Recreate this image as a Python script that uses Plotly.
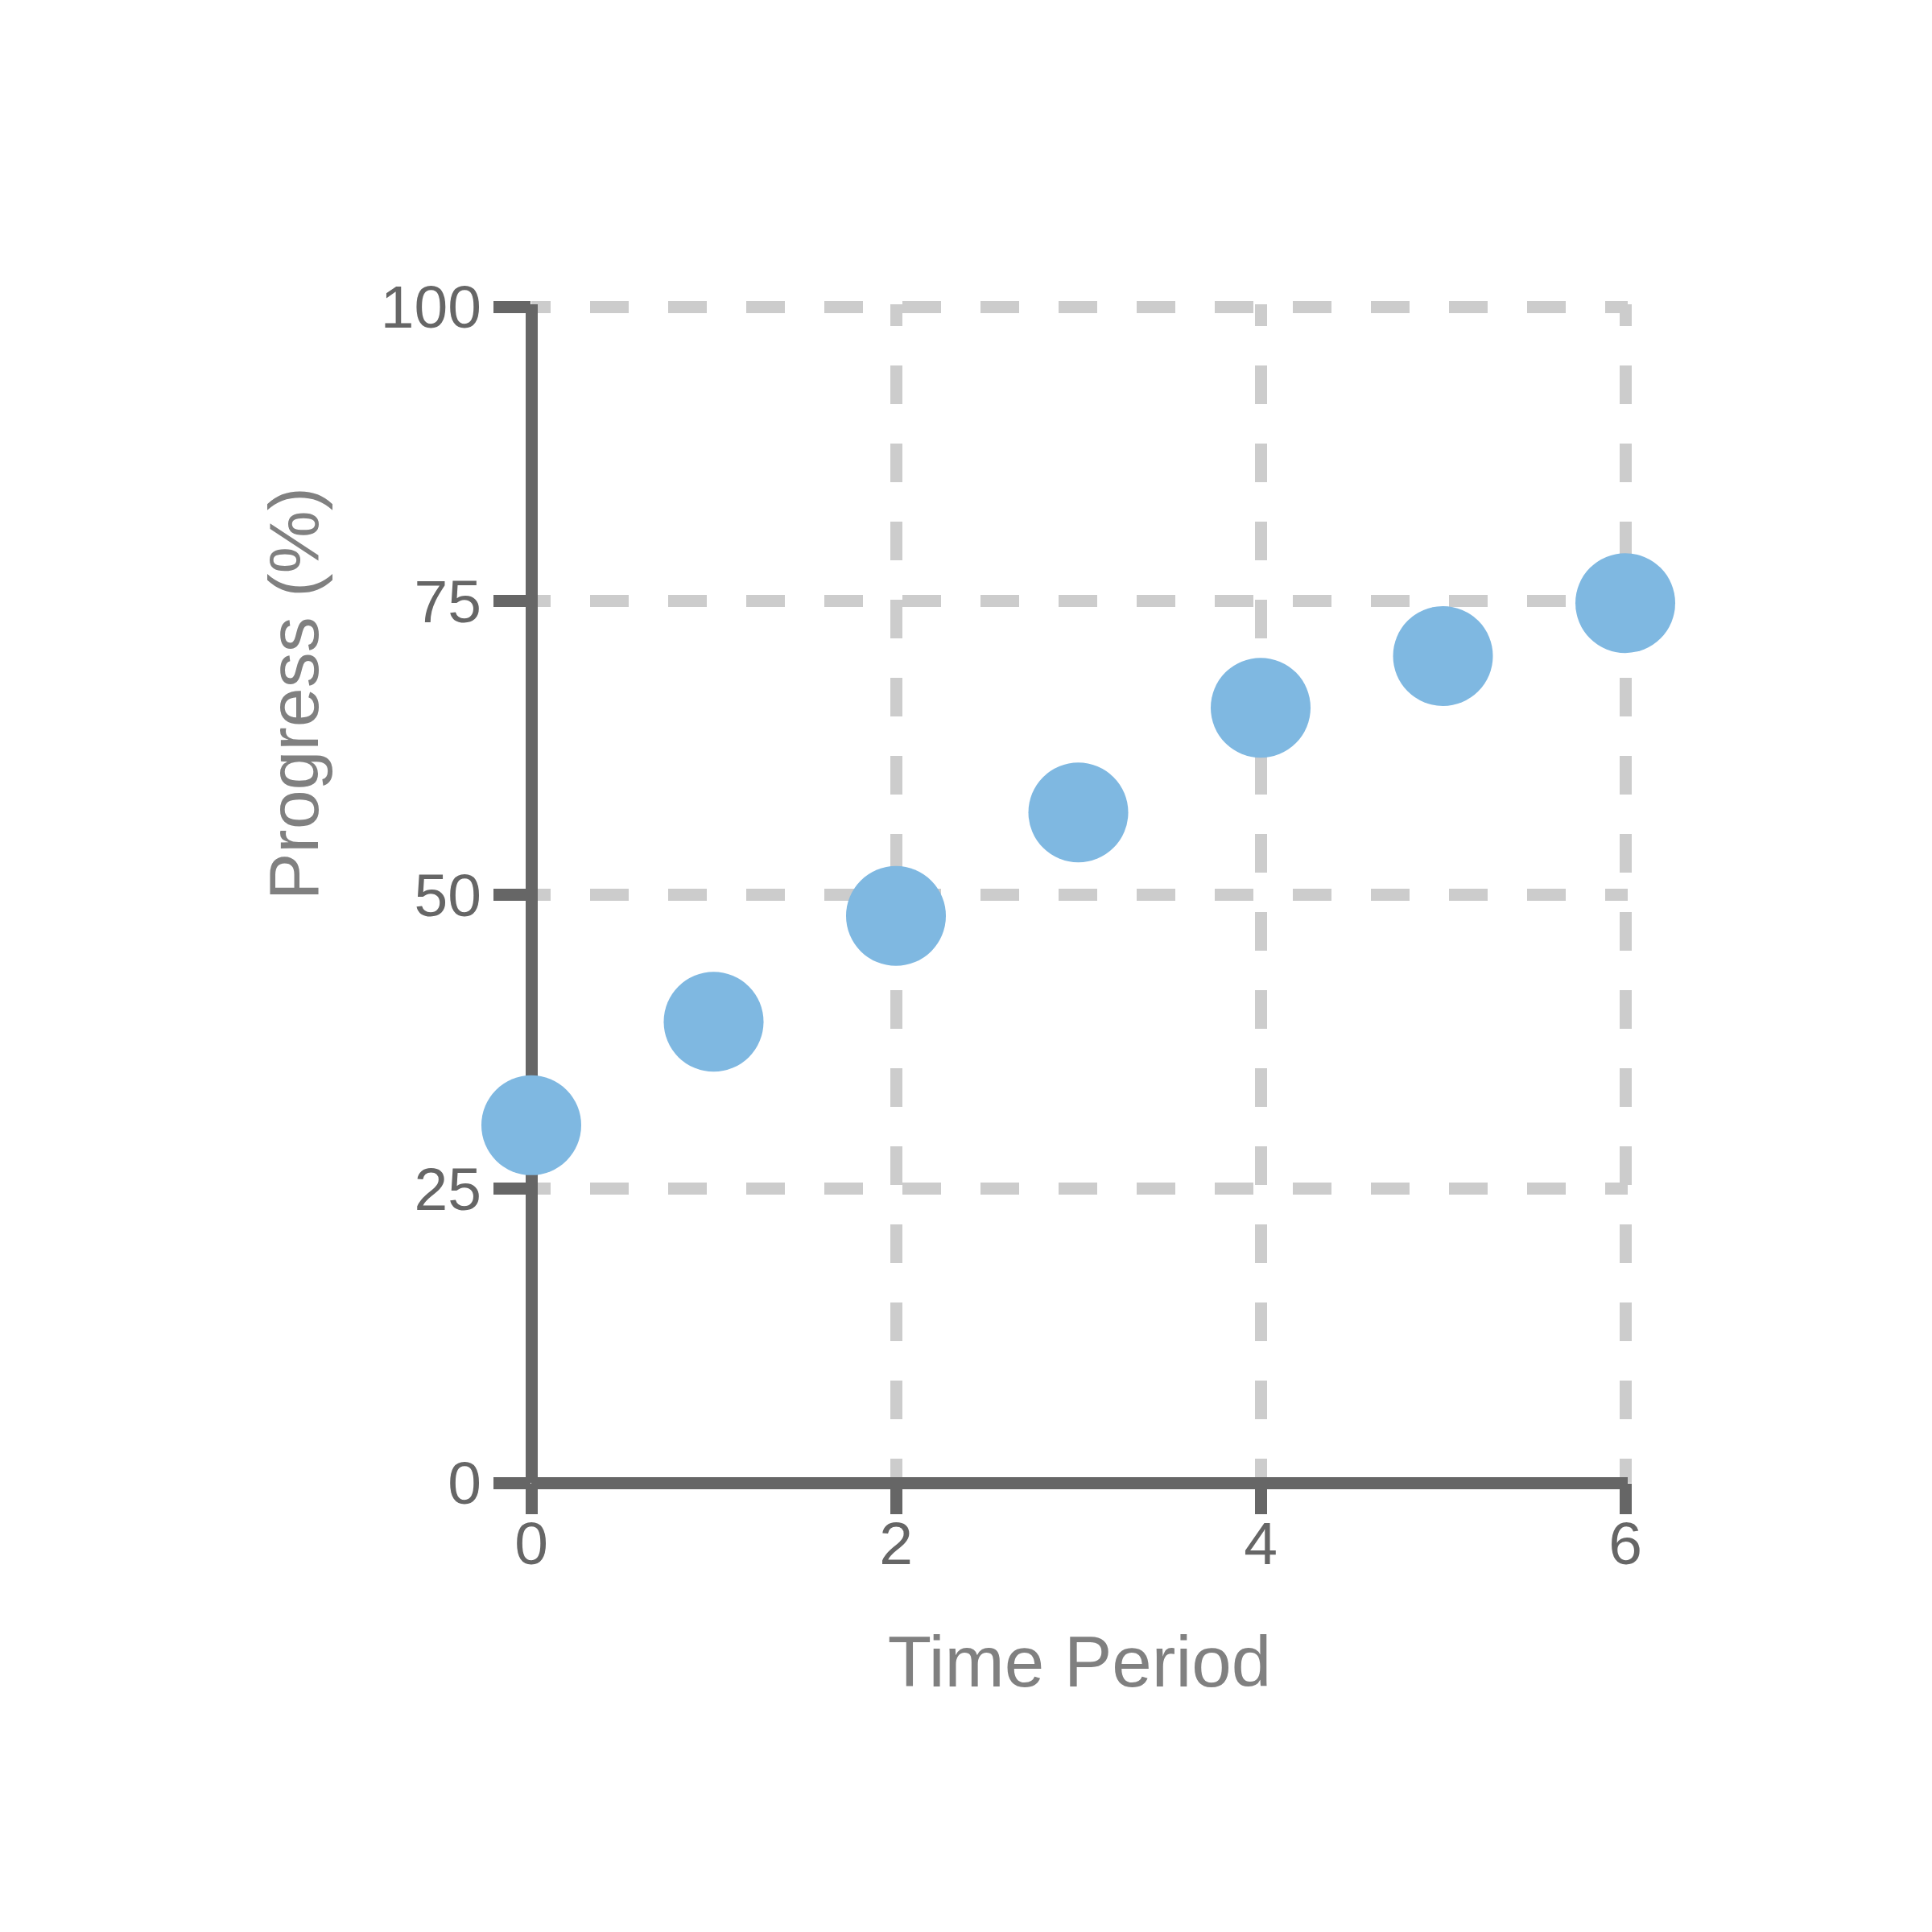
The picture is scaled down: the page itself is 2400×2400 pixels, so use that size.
import plotly.graph_objects as go

# Data
time_period = [0, 1, 2, 3, 4, 5, 6]
progress = [30.4, 39.2, 48.2, 57.0, 65.9, 70.3, 74.8]

x_tickvals = [0, 2, 4, 6]
y_tickvals = [0, 25, 50, 75, 100]

FONT = "Liberation Sans, Arial, Helvetica, sans-serif"
AXIS_COLOR = "#666666"
GRID_COLOR = "#cccccc"
TITLE_COLOR = "#808080"
MARKER_COLOR = "#7fb8e1"

# ranges padded by ~3px so the gridlines at the far edges are kept
X_RANGE = [0, 6.0132]
Y_RANGE = [0, 100.205]
L, R, T, B = 651.5, 386, 370, 566
PLOT_W = 2400 - L - R

fig = go.Figure()
fig.add_trace(go.Scatter(
    x=time_period,
    y=progress,
    mode="markers",
    marker=dict(size=124, color=MARKER_COLOR, line=dict(width=0)),
    cliponaxis=False,
    showlegend=False,
))

fig.update_layout(
    width=2400,
    height=2400,
    paper_bgcolor="white",
    plot_bgcolor="white",
    margin=dict(l=L, r=R, t=T, b=B, autoexpand=False),
    font=dict(family=FONT, color=AXIS_COLOR),
    showlegend=False,
)

fig.add_annotation(
    text="Progress (%)",
    xref="paper", yref="paper",
    x=(356 - L) / PLOT_W, y=49.4 / Y_RANGE[1],
    xanchor="center", yanchor="bottom",
    textangle=-90,
    showarrow=False,
    font=dict(size=88, color=TITLE_COLOR, family=FONT),
)

fig.update_xaxes(
    range=X_RANGE,
    tickmode="array",
    tickvals=x_tickvals,
    ticktext=[str(v) for v in x_tickvals],
    showline=False,
    zeroline=True,
    zerolinecolor=AXIS_COLOR,
    zerolinewidth=15,
    showgrid=True,
    gridcolor=GRID_COLOR,
    gridwidth=15,
    griddash="27px,49px,21px,0px",
    ticks="outside",
    ticklen=38,
    tickwidth=15,
    tickcolor=AXIS_COLOR,
    ticklabelstandoff=-28,
    tickfont=dict(size=75, color=AXIS_COLOR, family=FONT),
    title=dict(text="Time Period", font=dict(size=89, color=TITLE_COLOR, family=FONT), standoff=74),
    automargin=False,
)

fig.update_yaxes(
    range=Y_RANGE,
    tickmode="array",
    tickvals=y_tickvals,
    ticktext=[str(v) for v in y_tickvals],
    showline=False,
    zeroline=True,
    zerolinecolor=AXIS_COLOR,
    zerolinewidth=15,
    showgrid=True,
    gridcolor=GRID_COLOR,
    gridwidth=15,
    griddash="24px,49px,24px,0px",
    ticks="outside",
    ticklen=46,
    tickwidth=15,
    tickcolor=AXIS_COLOR,
    tickfont=dict(size=75, color=AXIS_COLOR, family=FONT),
    automargin=False,
)

fig.write_html("out.html")
